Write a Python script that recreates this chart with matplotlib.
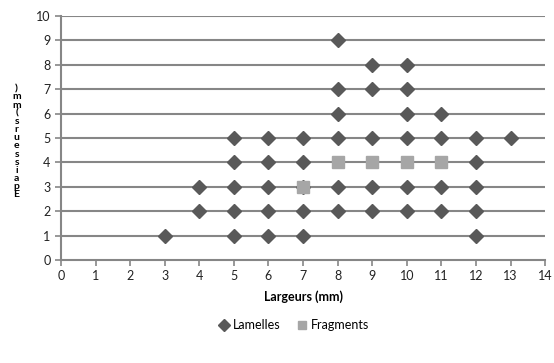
import matplotlib
matplotlib.use("Agg")
import matplotlib.pyplot as plt

plt.rcParams['font.family'] = ['Lato', 'DejaVu Sans']

# Lamelles (largeur, epaisseur) in mm
lam_x = [3, 5, 6, 7, 12,
         4, 5, 6, 7, 8, 9, 10, 11, 12,
         4, 5, 6, 7, 8, 9, 10, 11, 12,
         5, 6, 7, 12,
         5, 6, 7, 8, 9, 10, 11, 12, 13,
         8, 10, 11,
         8, 9, 10,
         9, 10,
         8]
lam_y = [1, 1, 1, 1, 1,
         2, 2, 2, 2, 2, 2, 2, 2, 2,
         3, 3, 3, 3, 3, 3, 3, 3, 3,
         4, 4, 4, 4,
         5, 5, 5, 5, 5, 5, 5, 5, 5,
         6, 6, 6,
         7, 7, 7,
         8, 8,
         9]
# Fragments
frag_x = [7, 8, 9, 10, 11]
frag_y = [3, 4, 4, 4, 4]

x_ticks = list(range(0, 15))
y_ticks = list(range(0, 11))
ylabel = "Epaisseurs (mm)"

grey = "#868686"

fig = plt.figure(figsize=(5.54, 3.63), dpi=100)
ax = fig.add_axes([0.110, 0.284, 0.874, 0.672])

for y in y_ticks[1:]:
    ax.axhline(y, color=grey, lw=1.5, zorder=1)

ax.plot(lam_x, lam_y, ls="none", marker="D", ms=7.5, color="#595959",
        mec="#595959", zorder=3, label="Lamelles")
ax.plot(frag_x, frag_y, ls="none", marker="s", ms=8, color="#A6A6A6",
        mec="#A6A6A6", zorder=4, label="Fragments")

ax.set_xlim(0, 14)
ax.set_ylim(0, 10)
ax.set_xticks(x_ticks)
ax.set_yticks(y_ticks)
for s in ["top", "right"]:
    ax.spines[s].set_visible(False)
for s in ["left", "bottom"]:
    ax.spines[s].set_color(grey)
    ax.spines[s].set_linewidth(1.5)
ax.tick_params(colors=grey, width=1.2, length=4, labelsize=9, labelcolor="#222222")

ax.set_xlabel("Largeurs (mm)", fontsize=9, fontweight="bold", labelpad=6)

# y label drawn as stacked upright characters, as in the reference
chars = [c for c in ylabel if c != " "]
for i, c in enumerate(chars):
    fig.text(0.030, 0.463 + i * 0.0225, c, fontsize=7.5, fontweight="bold",
             ha="center", va="center")

fig.legend(loc="center", bbox_to_anchor=(0.53, 0.105), ncol=2, frameon=False,
           fontsize=9, handletextpad=0.2, columnspacing=1.2, handlelength=1.0,
           markerscale=0.8)

fig.savefig("out.png", dpi=100)
